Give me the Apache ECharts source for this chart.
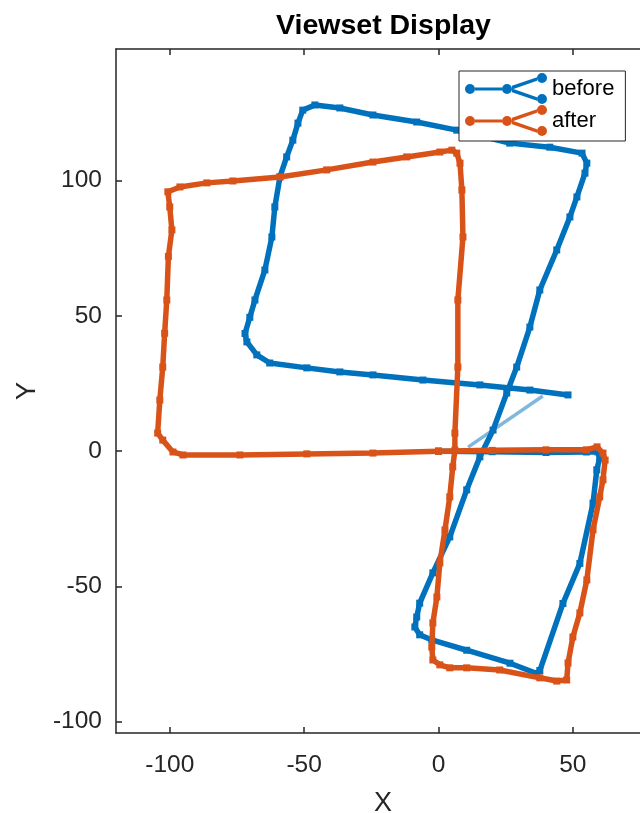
<!DOCTYPE html>
<html>
<head>
<meta charset="utf-8">
<script src="https://cdn.jsdelivr.net/npm/echarts@6/dist/echarts.min.js"></script>
<style>html,body{margin:0;padding:0;background:#fff}#c{width:640px;height:813px}</style>
</head>
<body>
<div id="c"></div>
<script>
// ---- data ----
const seriesNames = ['before', 'after'];
const xTicks = [-100, -50, 0, 50];
const yTicks = [-100, -50, 0, 50, 100];

const beforePath = [
  [0,0],[20,-0.2],[40,-0.5],[55,-0.3],[59.3,-0.3],[60,-2.5],[58.9,-6.9],
  [57.5,-19.2],[52.6,-41.5],[46.3,-56.3],[37.7,-81.1],[36.6,-82.2],
  [26.6,-78.4],[10.5,-73.6],[-2.5,-69.8],[-7,-67.9],[-8.8,-65],
  [-8.1,-61.3],[-7,-56.2],[-2.1,-45],[4.2,-31.7],[10.5,-14.3],[15.4,-2.1],[20.3,7.8],
  [25.4,21.5],[29.1,31.1],[34,45.9],[37.7,59.6],[44,74.4],[48.9,86.6],[51.5,94],
  [54.5,102.8],[55.2,106.5],[53.4,110.2],[41.4,112.4],[26.5,113.9],
  [6.8,118.7],[-8.1,121.7],[-24.4,124.3],[-36.7,126.9],[-46,128],[-50.5,126.1],
  [-52.3,121.3],[-54.2,115],[-56.5,108.8],[-59,101.4],[-60.9,90.3],[-62,79.2],
  [-64.6,67],[-68.3,55.9],[-70.2,49.5],[-72,43.5],[-71.3,40.4],[-67.6,35.6],
  [-62.8,32.6],[-49,30.8],[-36.7,29.3],[-24.4,28.2],[-5.8,26.3],[15.4,24.5],
  [34,22.6],[48.2,20.8]
];

const afterPath = [
  [0,0],[20,0.3],[40,0.5],[55,0.5],[59,1.6],[61.2,-0.7],[62,-3.3],
  [61.2,-10.6],[60,-16.9],[57.5,-29.1],[55.2,-47.6],[52.6,-59.8],[50,-68.7],
  [48.2,-78.3],[47.7,-84.6],[44,-85],[37.7,-83.8],[22.8,-80.9],[10.5,-80.1],
  [4.2,-80.1],[0.5,-79],[-2.1,-77.2],[-2.5,-72.4],[-2.1,-63.5],[-0.6,-53.9],
  [0.5,-41.3],[2.4,-29.1],[4.2,-16.9],[5.3,-5.8],[6.1,0.4],[6.1,6.7],[7.2,31.1],
  [7.2,55.9],[9.1,79.2],[8.7,96.6],[8,106.5],[6.8,110.2],[5,111.3],[0.5,110.6],
  [-11.8,108.8],[-24.4,106.9],[-41.6,104],[-59,101.4],[-76.5,99.9],[-86.2,99.2],
  [-96.2,97.7],[-100.7,95.9],[-100,90.3],[-99.2,81.8],[-100.5,72],[-101.1,55.9],
  [-101.9,43.6],[-102.6,31.1],[-103.7,18.9],[-104.5,6.7],[-102.6,4.1],[-98.8,-0.3],
  [-95.1,-1.4],[-73.9,-1.4],[-49,-1],[-24.4,-0.7],[0,0]
];

const loopClosure = [[11,1.5],[38.8,20.4]];

// ---- chart ----
const BLUE = '#0072BD', ORANGE = '#D95319', AX = '#262626';
const FONT = '"Liberation Sans", Arial, Helvetica, sans-serif';
const graphIcon = 'path://M0,16a5,5 0 1,0 10,0a5,5 0 1,0 -10,0Z' +
  'M37,16a5,5 0 1,0 10,0a5,5 0 1,0 -10,0Z' +
  'M72,5a5,5 0 1,0 10,0a5,5 0 1,0 -10,0Z' +
  'M72,26a5,5 0 1,0 10,0a5,5 0 1,0 -10,0Z' +
  'M10,14.5L37,14.5L37,17.5L10,17.5Z' +
  'M47,12.8L72,4.2L72,7.8L47,16.4Z' +
  'M47,15.6L72,24.2L72,27.8L47,19.2Z';

const chart = echarts.init(document.getElementById('c'), null, {renderer: 'canvas'});
const axisCommon = {
  axisLine: {show: true, onZero: false, lineStyle: {color: AX, width: 1.5}},
  splitLine: {show: false}
};
chart.setOption({
  backgroundColor: '#fff',
  animation: false,
  textStyle: {fontFamily: FONT},
  title: {
    text: 'Viewset Display', left: 271, top: 7,
    textStyle: {fontSize: 28.5, fontWeight: 'bold', color: '#000', fontFamily: FONT}
  },
  legend: {
    orient: 'vertical', left: 459, top: 71,
    padding: [2, 11, 5, 6], itemGap: 1,
    itemWidth: 82, itemHeight: 31,
    borderColor: AX, borderWidth: 1, backgroundColor: '#fff',
    textStyle: {fontSize: 22, color: '#000', fontFamily: FONT},
    data: seriesNames.map(n => ({name: n, icon: graphIcon}))
  },
  grid: {left: 116, top: 49, width: 534, height: 684, containLabel: false, outerBoundsMode: 'none'},
  xAxis: [
    Object.assign({}, axisCommon, {
      type: 'value', position: 'bottom', min: -120, max: 78.7,
      name: 'X', nameLocation: 'middle', nameGap: 57,
      nameTextStyle: {fontSize: 27, color: AX, fontFamily: FONT},
      axisTick: {show: true, inside: true, length: 6, customValues: xTicks, lineStyle: {color: AX, width: 1.5}},
      axisLabel: {show: true, customValues: xTicks, margin: 20, fontSize: 24.5, color: AX, fontFamily: FONT}
    }),
    Object.assign({}, axisCommon, {
      type: 'value', position: 'top', min: -120, max: 78.7,
      axisTick: {show: true, inside: true, length: 6, customValues: xTicks, lineStyle: {color: AX, width: 1.5}},
      axisLabel: {show: false}
    })
  ],
  yAxis: [
    Object.assign({}, axisCommon, {
      type: 'value', position: 'left', min: -104.2, max: 148.7,
      name: 'Y', nameLocation: 'middle', nameGap: 75, nameRotate: 90,
      nameTextStyle: {fontSize: 27, color: AX, fontFamily: FONT},
      axisTick: {show: true, inside: true, length: 6, customValues: yTicks, lineStyle: {color: AX, width: 1.5}},
      axisLabel: {show: true, customValues: yTicks, margin: 14, fontSize: 24.5, color: AX, fontFamily: FONT, padding: [5, 0, 0, 0]}
    })
  ],
  series: [
    {
      name: 'before', type: 'line', data: beforePath, xAxisIndex: 0, yAxisIndex: 0,
      color: BLUE, showSymbol: true, symbol: 'rect', symbolSize: 7,
      lineStyle: {color: BLUE, width: 5.5}, itemStyle: {color: BLUE}, z: 2
    },
    {
      name: 'before-loop', type: 'line', data: loopClosure, xAxisIndex: 0, yAxisIndex: 0,
      showSymbol: false, lineStyle: {color: 'rgba(0,114,189,0.5)', width: 3.5}, z: 2
    },
    {
      name: 'after', type: 'line', data: afterPath, xAxisIndex: 0, yAxisIndex: 0,
      color: ORANGE, showSymbol: true, symbol: 'rect', symbolSize: 7,
      lineStyle: {color: ORANGE, width: 5.5}, itemStyle: {color: ORANGE}, z: 3
    }
  ]
});
</script>
</body>
</html>
